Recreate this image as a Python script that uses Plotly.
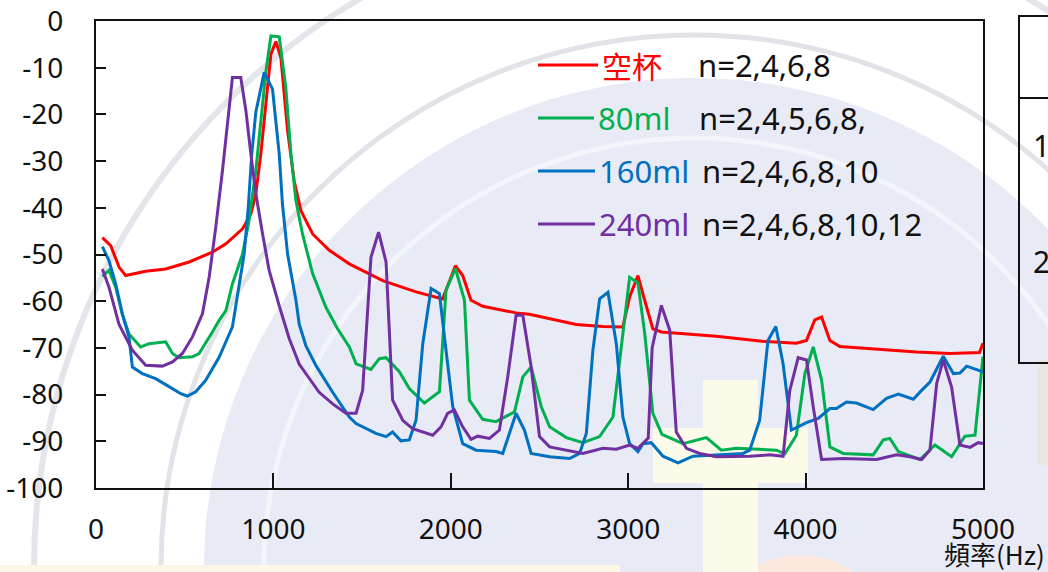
import plotly.graph_objects as go

# ---- measured spectra (frequency in Hz, level in dB) ----
empty_hz = [36, 83, 130, 167, 280, 393, 525, 656, 732, 826, 873, 901, 929, 958, 986, 1014, 1042,
            1080, 1117, 1155, 1221, 1315, 1428, 1616, 1804, 1954, 2026, 2067, 2114, 2180, 2368,
            2443, 2557, 2707, 2857, 2970, 3008, 3055, 3093, 3139, 3187, 3309, 3497, 3755, 3948,
            4005, 4052, 4090, 4137, 4193, 4475, 4626, 4814, 4980, 5000]
empty_db = [-46.4, -48.1, -52.7, -54.5, -53.6, -53.1, -51.6, -49.5, -47.7, -44.5, -41.3, -37.0,
            -28.5, -17.8, -7.1, -4.4, -7.8, -23.5, -34.2, -40.6, -45.6, -49.1, -52.0, -55.6,
            -58.0, -59.5, -52.4, -54.5, -59.8, -61.1, -62.5, -62.8, -63.7, -65.0, -65.4, -65.5,
            -59.1, -54.5, -59.8, -65.9, -66.6, -67.0, -67.5, -68.6, -69.0, -68.4, -64.0, -63.4,
            -68.4, -69.7, -70.4, -70.9, -71.2, -71.0, -69.0]

ml80_hz = [36, 73, 111, 148, 186, 252, 299, 393, 431, 468, 543, 581, 656, 694, 732, 769, 826, 863,
           901, 929, 958, 986, 1033, 1070, 1099, 1127, 1164, 1221, 1296, 1360, 1428, 1466, 1550,
           1597, 1635, 1710, 1766, 1851, 1936, 1973, 2026, 2077, 2105, 2180, 2255, 2359, 2406,
           2453, 2510, 2557, 2651, 2745, 2839, 2914, 2961, 3008, 3055, 3093, 3139, 3190, 3309,
           3441, 3525, 3610, 3836, 3883, 3948, 3996, 4043, 4090, 4137, 4212, 4381, 4438, 4475,
           4523, 4645, 4729, 4823, 4898, 4955, 5000]
ml80_db = [-54.7, -53.4, -57.0, -62.7, -67.0, -69.8, -69.1, -68.7, -71.2, -72.1, -71.9, -71.2,
           -66.6, -64.1, -62.0, -56.3, -49.9, -42.7, -32.0, -21.4, -10.7, -3.2, -3.4, -14.3,
           -28.5, -38.5, -45.6, -54.1, -61.3, -65.8, -69.8, -73.4, -74.6, -72.3, -72.1, -75.1,
           -78.7, -81.8, -79.4, -57.7, -53.0, -59.8, -81.2, -85.3, -85.8, -83.7, -76.2, -74.1,
           -82.6, -86.9, -89.2, -90.3, -89.0, -84.8, -69.8, -54.9, -56.1, -66.9, -84.0, -88.5,
           -90.5, -89.2, -91.9, -91.5, -91.9, -92.7, -88.7, -75.5, -69.8, -76.9, -91.2, -92.6,
           -92.9, -89.7, -89.4, -92.2, -93.9, -90.8, -93.3, -88.9, -88.7, -71.9]

ml160_hz = [36, 73, 111, 148, 186, 205, 261, 336, 412, 478, 515, 562, 619, 694, 769, 806, 835,
            858, 878, 901, 929, 948, 995, 1014, 1033, 1051, 1080, 1127, 1146, 1183, 1240, 1334,
            1428, 1466, 1578, 1635, 1672, 1719, 1766, 1804, 1842, 1889, 1936, 1973, 2011, 2067,
            2143, 2255, 2293, 2368, 2415, 2453, 2557, 2670, 2726, 2764, 2801, 2839, 2886, 2933,
            2970, 3008, 3055, 3083, 3130, 3196, 3281, 3365, 3497, 3647, 3685, 3741, 3788, 3832,
            3873, 3920, 4005, 4071, 4137, 4174, 4231, 4287, 4381, 4456, 4523, 4607, 4654, 4701,
            4776, 4833, 4870, 4908, 5000]
ml160_db = [-48.3, -51.3, -56.3, -62.7, -67.7, -74.1, -75.5, -76.6, -78.3, -79.8, -80.3, -79.4,
            -76.9, -72.0, -65.5, -57.0, -49.9, -40.0, -28.5, -19.5, -14.3, -11.0, -14.6, -21.4,
            -28.5, -39.2, -49.9, -59.8, -65.0, -69.5, -73.8, -79.5, -84.8, -86.2, -88.3, -89.0,
            -88.0, -89.9, -89.7, -85.5, -69.1, -57.3, -58.4, -70.5, -82.6, -90.5, -91.9, -92.2,
            -92.6, -84.0, -87.6, -92.6, -93.3, -93.7, -92.6, -88.3, -70.5, -59.5, -58.1, -69.1,
            -84.8, -90.5, -92.2, -90.5, -90.3, -93.2, -94.6, -93.2, -92.9, -92.6, -91.9, -85.5,
            -68.4, -65.4, -73.4, -87.6, -86.0, -85.1, -83.0, -83.0, -81.6, -81.8, -83.2, -80.8,
            -79.9, -81.0, -79.1, -77.3, -71.8, -75.5, -75.4, -73.9, -75.1]

ml240_hz = [36, 73, 130, 205, 280, 374, 431, 487, 543, 600, 638, 675, 713, 741, 769, 816, 845,
            873, 901, 939, 976, 1033, 1089, 1146, 1258, 1334, 1409, 1466, 1503, 1550, 1593, 1635,
            1672, 1729, 1785, 1898, 1945, 1982, 2020, 2067, 2114, 2152, 2218, 2274, 2321, 2368,
            2406, 2453, 2500, 2557, 2651, 2745, 2857, 2933, 3008, 3055, 3113, 3135, 3187, 3234,
            3271, 3328, 3403, 3497, 3685, 3798, 3873, 3911, 3958, 4005, 4043, 4090, 4212, 4400,
            4513, 4588, 4654, 4701, 4739, 4776, 4823, 4870, 4927, 4973, 5000]
ml240_db = [-53.1, -57.0, -65.0, -70.5, -73.7, -73.9, -73.0, -71.2, -67.7, -62.7, -54.8, -44.2,
            -32.0, -21.4, -12.1, -12.1, -19.2, -28.5, -37.0, -45.6, -53.4, -61.0, -68.0, -73.5,
            -79.5, -82.0, -84.0, -84.0, -79.1, -50.6, -45.2, -51.6, -81.2, -85.5, -87.3, -88.7,
            -86.9, -84.0, -83.3, -86.9, -89.6, -88.9, -89.4, -87.6, -76.2, -63.0, -63.0, -74.1,
            -89.0, -91.2, -91.9, -92.6, -91.5, -91.7, -90.8, -91.5, -89.3, -70.0, -60.9, -66.2,
            -88.0, -91.5, -92.6, -93.3, -93.2, -92.9, -93.2, -79.1, -72.1, -72.6, -82.6, -93.9,
            -93.7, -93.9, -92.9, -93.3, -93.9, -91.9, -77.6, -72.6, -78.4, -90.8, -91.3, -90.3,
            -90.5]

x_ticks = [0, 1000, 2000, 3000, 4000, 5000]
y_ticks = [0, -10, -20, -30, -40, -50, -60, -70, -80, -90, -100]

series = [
    ("空杯", "n=2,4,6,8", empty_hz, empty_db, "#ff0000"),
    ("80ml", "n=2,4,5,6,8,", ml80_hz, ml80_db, "#00b050"),
    ("160ml", "n=2,4,6,8,10", ml160_hz, ml160_db, "#0070c0"),
    ("240ml", "n=2,4,6,8,10,12", ml240_hz, ml240_db, "#7030a0"),
]

W, H = 1048, 572
L, R, T, B = 96, 983, 21, 488  # plot area edges in pixels


def px(x):
    return (x - L) / (R - L)


def py(y):
    return (B - y) / (B - T)


fig = go.Figure()
for name, note, xs, ys, color in series:
    fig.add_trace(go.Scatter(x=xs, y=ys, mode="lines", name=name,
                             line=dict(color=color, width=3), showlegend=False))

shapes = []


def circle(cx, cy, r, **kw):
    return dict(type="circle", xref="paper", yref="paper", layer="below",
                x0=px(cx - r), x1=px(cx + r), y0=py(cy + r), y1=py(cy - r), **kw)


# faint school-emblem watermark behind the chart
CX, CY = 694, 568
shapes.append(circle(CX, CY, 660, line=dict(color="#e4e5ea", width=6), fillcolor="rgba(0,0,0,0)"))
shapes.append(circle(CX, CY, 533, line=dict(color="#e2e3e8", width=5), fillcolor="rgba(0,0,0,0)"))
shapes.append(circle(CX, CY, 490, line=dict(width=0), fillcolor="#e8ebf5"))
shapes.append(circle(CX, CY, 430, line=dict(color="#f4f5fa", width=5), fillcolor="rgba(0,0,0,0)"))
shapes.append(circle(800, 650, 95, line=dict(width=0), fillcolor="#fbe9e0"))
for x0, x1, y0, y1 in [(703, 758, 380, 572), (653, 808, 428, 483)]:
    shapes.append(dict(type="rect", xref="paper", yref="paper", layer="below",
                       x0=px(x0), x1=px(x1), y0=py(y1), y1=py(y0),
                       line=dict(width=0), fillcolor="#fcfbea"))
shapes.append(dict(type="rect", xref="paper", yref="paper", layer="below",
                   x0=px(1037), x1=px(1050), y0=py(465), y1=py(360),
                   line=dict(width=0), fillcolor="#e9e7e0"))
shapes.append(dict(type="rect", xref="paper", yref="paper", layer="below",
                   x0=px(0), x1=px(620), y0=py(573), y1=py(565),
                   line=dict(width=0), fillcolor="#fdf6e6"))

# neighbouring table on the right edge
shapes.append(dict(type="rect", xref="paper", yref="paper",
                   x0=px(1019), x1=px(1060), y0=py(363), y1=py(16),
                   line=dict(color="#111111", width=2)))
shapes.append(dict(type="line", xref="paper", yref="paper",
                   x0=px(1019), x1=px(1060), y0=py(98), y1=py(98),
                   line=dict(color="#111111", width=2)))

annotations = []
rows_y = [65, 118, 171, 224]
label_x = [600, 596, 597, 597]
note_x = [696, 697, 700, 700]
for (name, note, xs, ys, color), yy, lx, nx in zip(series, rows_y, label_x, note_x):
    shapes.append(dict(type="line", xref="paper", yref="paper",
                       x0=px(538), x1=px(lx - 2), y0=py(yy), y1=py(yy),
                       line=dict(color=color, width=3)))
    fam = "Noto Sans CJK TC" if name == "空杯" else "Noto Sans"
    annotations.append(dict(text=name, x=px(lx), y=py(yy), xref="paper", yref="paper",
                            xanchor="left", yanchor="middle", showarrow=False,
                            font=dict(family=fam, size=31 if name != "空杯" else 30, color=color)))
    annotations.append(dict(text=note, x=px(nx), y=py(yy), xref="paper", yref="paper",
                            xanchor="left", yanchor="middle", showarrow=False,
                            font=dict(family="Noto Sans", size=31, color="#111111")))

annotations.append(dict(text="頻率(Hz)", x=px(1046), y=py(573), xref="paper", yref="paper",
                        xanchor="right", yanchor="bottom", showarrow=False, borderpad=0,
                        font=dict(family="Noto Sans CJK TC", size=26, color="#111111")))
for t, yy in [("1", 145), ("2", 261)]:
    annotations.append(dict(text=t, x=px(1031), y=py(yy), xref="paper", yref="paper",
                            xanchor="left", yanchor="middle", showarrow=False,
                            font=dict(family="Noto Sans", size=30, color="#111111")))

fig.update_layout(
    width=W, height=H,
    margin=dict(l=L, r=W - R, t=T, b=H - B, autoexpand=False),
    paper_bgcolor="white", plot_bgcolor="rgba(0,0,0,0)",
    shapes=shapes, annotations=annotations,
    font=dict(family="Noto Sans", color="#111111"),
)
fig.update_xaxes(range=[0, 5000], tickvals=x_ticks, ticktext=[str(v) for v in x_ticks],
                 ticks="inside", ticklen=15, tickwidth=2, tickcolor="#111111",
                 showline=True, linecolor="#111111", linewidth=2, mirror=True,
                 showgrid=False, zeroline=False, tickfont=dict(size=28),
                 ticklabelstandoff=15, automargin=False)
fig.update_yaxes(range=[-100, 0], tickvals=y_ticks, ticktext=[str(v) for v in y_ticks],
                 ticks="inside", ticklen=10, tickwidth=2, tickcolor="#111111",
                 showline=True, linecolor="#111111", linewidth=2, mirror=True,
                 showgrid=False, zeroline=False, tickfont=dict(size=28),
                 ticklabelstandoff=25, automargin=False)

fig.write_html("out.html")
